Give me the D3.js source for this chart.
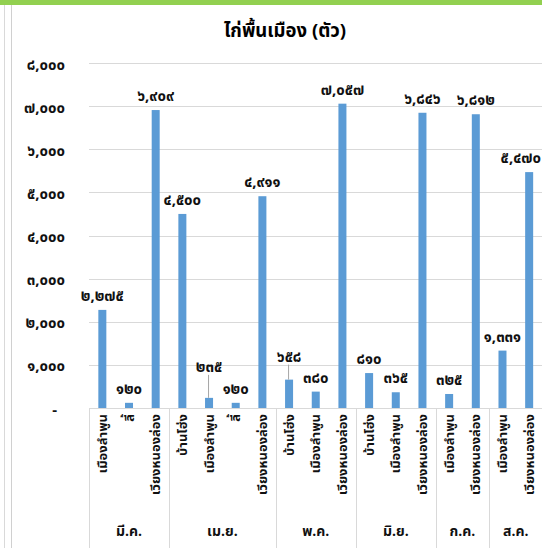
<!DOCTYPE html>
<html>
<head>
<meta charset="utf-8">
<script src="https://cdn.jsdelivr.net/npm/d3@7"></script>
<style>
  html, body { margin: 0; padding: 0; background: #fff; }
  svg { display: block; font-family: 'Noto Sans Thai', 'Noto Sans', 'DejaVu Sans', sans-serif; }
</style>
</head>
<body>
<svg id="chart" width="542" height="548"></svg>
<script>
// ---- data ----
const title = "ไก่พื้นเมือง (ตัว)";
const months = ["มี.ค.", "เม.ย.", "พ.ค.", "มิ.ย.", "ก.ค.", "ส.ค."];
const leafMonth = ["มี.ค.", "มี.ค.", "มี.ค.",
  "เม.ย.", "เม.ย.", "เม.ย.", "เม.ย.",
  "พ.ค.", "พ.ค.", "พ.ค.",
  "มิ.ย.", "มิ.ย.", "มิ.ย.",
  "ก.ค.", "ก.ค.",
  "ส.ค.", "ส.ค."];
const leafDistrict = ["เมืองลำพูน", "ลี้", "เวียงหนองล่อง",
  "บ้านโฮ่ง", "เมืองลำพูน", "ลี้", "เวียงหนองล่อง",
  "บ้านโฮ่ง", "เมืองลำพูน", "เวียงหนองล่อง",
  "บ้านโฮ่ง", "เมืองลำพูน", "เวียงหนองล่อง",
  "เมืองลำพูน", "เวียงหนองล่อง",
  "เมืองลำพูน", "เวียงหนองล่อง"];
const values = [2275, 120, 6909,
  4500, 235, 120, 4911,
  658, 380, 7057,
  810, 365, 6846,
  325, 6812,
  1331, 5470];
const yTicks = [0, 1000, 2000, 3000, 4000, 5000, 6000, 7000, 8000];

// ---- helpers ----
const thaiDigits = "๐๑๒๓๔๕๖๗๘๙";
const toThai = n => d3.format(",")(n).replace(/\d/g, d => thaiDigits[+d]);

const svg = d3.select("#chart");
const W = 542, H = 548;
const plotLeft = 89, plotRight = 542.5, plotTop = 63, plotBottom = 408;

// frame decorations
svg.append("rect").attr("x", 0).attr("y", 0).attr("width", W).attr("height", 5).attr("fill", "#92d050");
svg.append("line").attr("x1", 4.5).attr("x2", 4.5).attr("y1", 5).attr("y2", H).attr("stroke", "#d9d9d9");
svg.append("line").attr("x1", 11.5).attr("x2", 11.5).attr("y1", 5).attr("y2", H).attr("stroke", "#d0d0d0");

// title
svg.append("text").attr("x", 285).attr("y", 37).attr("text-anchor", "middle")
  .attr("font-size", 18.5).attr("font-weight", "bold").attr("fill", "#000").text(title);

// scales
const keys = values.map((_, i) => i);
const x = d3.scaleBand().domain(keys).range([plotLeft, plotRight]).padding(0);
const y = d3.scaleLinear().domain([0, 8000]).range([plotBottom, plotTop]);
const barW = x.bandwidth() * 0.3;

// gridlines
svg.append("g").selectAll("line").data(yTicks.filter(t => t > 0)).join("line")
  .attr("x1", plotLeft).attr("x2", W)
  .attr("y1", d => Math.round(y(d)) + 0.5).attr("y2", d => Math.round(y(d)) + 0.5)
  .attr("stroke", "#d9d9d9").attr("stroke-width", 1);

// y axis
const yAxis = d3.axisLeft(y).tickValues(yTicks).tickSize(0).tickPadding(0)
  .tickFormat(d => d === 0 ? "-" : toThai(d));
const gy = svg.append("g").attr("transform", `translate(65,0)`).call(yAxis);
gy.select(".domain").remove();
gy.selectAll("text").attr("font-size", 15).attr("font-weight", "bold").attr("fill", "#111")
  .attr("font-family", "'Noto Sans Thai', 'Noto Sans', 'DejaVu Sans', sans-serif")
  .attr("dy", "0.4em");
gy.selectAll(".tick").filter(d => d === 0).select("text").attr("dx", -8);

// bars
svg.append("g").selectAll("rect").data(keys).join("rect")
  .attr("x", i => x(i) + (x.bandwidth() - barW) / 2)
  .attr("width", barW)
  .attr("y", i => y(values[i]))
  .attr("height", i => y(0) - y(values[i]))
  .attr("fill", "#5b9bd5");

// data labels (some lifted with leader lines, as in the original)
const lift = {4: 17, 7: 9};
const lbl = svg.append("g");
keys.forEach(i => {
  let cx = x(i) + x.bandwidth() / 2;
  let anchor = "middle";
  const top = y(values[i]);
  const extra = lift[i] || 0;
  const by = top - 9 - extra;
  if (i === keys.length - 1) { cx = W - 1; anchor = "end"; }
  lbl.append("text").attr("x", cx).attr("y", by).attr("text-anchor", anchor)
    .attr("font-size", 15).attr("font-weight", "bold").attr("fill", "#111")
    .text(toThai(values[i]));
  if (extra) {
    lbl.append("line").attr("x1", cx - 0.5).attr("x2", cx - 0.5)
      .attr("y1", by + 3).attr("y2", top).attr("stroke", "#a6a6a6").attr("stroke-width", 1);
  }
});

// category axis: boundaries between month groups
const boundaries = [0];
leafMonth.forEach((m, i) => { if (i > 0 && m !== leafMonth[i - 1]) boundaries.push(i); });
const bx = boundaries.map(i => x(i)).concat([plotRight]);
svg.append("line").attr("x1", plotLeft).attr("x2", W).attr("y1", plotBottom + 0.5).attr("y2", plotBottom + 0.5)
  .attr("stroke", "#d9d9d9");
svg.append("g").selectAll("line").data(bx).join("line")
  .attr("x1", d => Math.round(d) + 0.5).attr("x2", d => Math.round(d) + 0.5)
  .attr("y1", plotBottom).attr("y2", H)
  .attr("stroke", "#d9d9d9");

// leaf labels (rotated)
svg.append("g").selectAll("text").data(keys).join("text")
  .attr("transform", i => `translate(${x(i) + x.bandwidth() / 2},${plotBottom + 6}) rotate(-90)`)
  .attr("text-anchor", "end").attr("dy", "0.35em")
  .attr("font-size", 13).attr("font-weight", "bold").attr("fill", "#111")
  .text(i => leafDistrict[i]);

// month labels
svg.append("g").selectAll("text").data(months).join("text")
  .attr("x", m => {
    const idx = leafMonth.map((v, i) => v === m ? i : -1).filter(i => i >= 0);
    return (x(idx[0]) + x(idx[idx.length - 1]) + x.bandwidth()) / 2;
  })
  .attr("y", 536).attr("text-anchor", "middle")
  .attr("font-size", 14).attr("font-weight", "bold").attr("fill", "#111")
  .text(m => m);
</script>
</body>
</html>
